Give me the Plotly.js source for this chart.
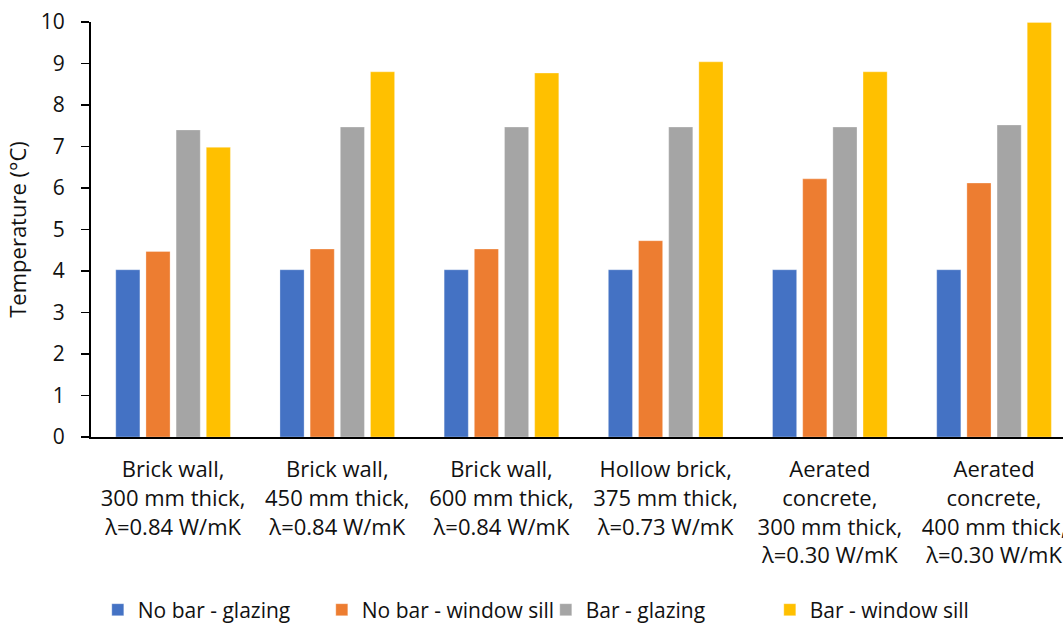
<!DOCTYPE html>
<html>
<head>
<meta charset="utf-8">
<script src="https://cdn.plot.ly/plotly-3.0.1.min.js"></script>
<style>
html, body { margin: 0; padding: 0; background: #fff; overflow: hidden; }
#chart { width: 1063px; height: 623px; }
</style>
</head>
<body>
<div id="chart"></div>
<script>
const categories = [
  "Brick wall,<br>300 mm thick,<br>λ=0.84 W/mK",
  "Brick wall,<br>450 mm thick,<br>λ=0.84 W/mK",
  "Brick wall,<br>600 mm thick,<br>λ=0.84 W/mK",
  "Hollow brick,<br>375 mm thick,<br>λ=0.73 W/mK",
  "Aerated<br>concrete,<br>300 mm thick,<br>λ=0.30 W/mK",
  "Aerated<br>concrete,<br>400 mm thick,<br>λ=0.30 W/mK"
];
const seriesNames = ["No bar - glazing", "No bar - window sill", "Bar - glazing", "Bar - window sill"];
const noBarGlazing = [4.03, 4.03, 4.03, 4.03, 4.03, 4.03];
const noBarSill = [4.47, 4.53, 4.53, 4.73, 6.22, 6.12];
const barGlazing = [7.40, 7.47, 7.47, 7.47, 7.47, 7.52];
const barSill = [6.98, 8.80, 8.77, 9.04, 8.80, 9.99];
const colors = ["#4472C4", "#ED7D31", "#A5A5A5", "#FFC000"];
const yTicks = [0, 1, 2, 3, 4, 5, 6, 7, 8, 9, 10];

const allSeries = [noBarGlazing, noBarSill, barGlazing, barSill];
const font = "Open Sans, Liberation Sans, sans-serif";

const data = allSeries.map((vals, i) => ({
  type: "bar",
  name: seriesNames[i],
  x: categories,
  y: vals,
  marker: { color: colors[i], line: { color: "rgba(255,255,255,0.6)", width: 0.5 } },
  hoverinfo: "skip"
}));

const layout = {
  width: 1063,
  height: 623,
  margin: { l: 91, r: 0, t: 22, b: 186, autoexpand: false },
  paper_bgcolor: "#fff",
  plot_bgcolor: "#fff",
  barmode: "group",
  bargap: 0.265,
  bargroupgap: 0.2,
  font: { family: font, color: "#111", size: 21 },
  showlegend: true,
  legend: {
    orientation: "h",
    x: 0.007, xanchor: "left",
    y: -0.417, yanchor: "middle",
    font: { family: font, size: 21, color: "#111" },
    itemwidth: 30,
    entrywidth: 179,
    entrywidthmode: "pixels",
    traceorder: "normal"
  },
  xaxis: {
    type: "category",
    range: [-0.5, 5.42],
    showline: true,
    linecolor: "#000",
    linewidth: 2,
    ticks: "",
    showgrid: false,
    zeroline: false,
    ticklabelstandoff: 12,
    tickfont: { family: font, size: 22, color: "#111" },
    tickangle: 0,
    automargin: false
  },
  yaxis: {
    range: [0, 10],
    tickvals: yTicks,
    ticktext: yTicks.map(String),
    showline: true,
    linecolor: "#000",
    linewidth: 2,
    ticks: "outside",
    ticklen: 8,
    tickwidth: 1.5,
    tickcolor: "#000",
    ticklabelstandoff: 12,
    showgrid: false,
    zeroline: false,
    tickfont: { family: font, size: 21, color: "#111" },
    title: { text: "Temperature (°C)", font: { family: font, size: 22, color: "#111" }, standoff: 8 },
    automargin: false
  }
};

Plotly.newPlot("chart", data, layout, { displayModeBar: false, staticPlot: true });
</script>
</body>
</html>
